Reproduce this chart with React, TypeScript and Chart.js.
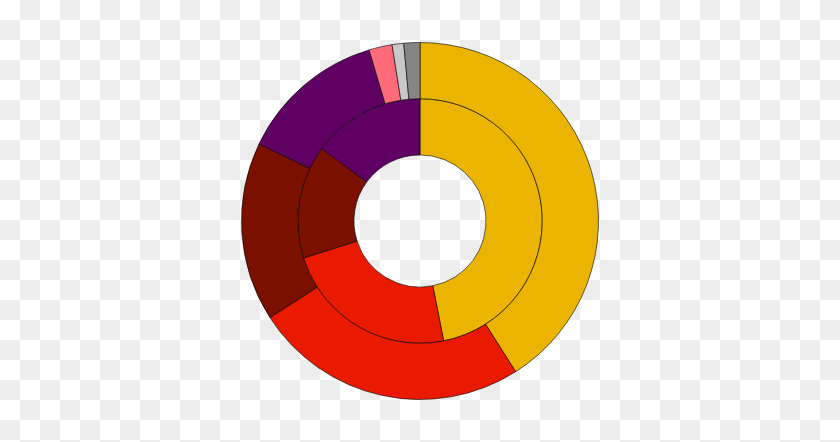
import { useEffect, useRef } from "react";
import Chart from "chart.js/auto";

// categories, clockwise from 12 o'clock
const outerLabels = ["A", "B", "C", "D", "E", "F", "G"];
const outerValues = [41.0, 24.9, 16.2, 13.3, 2.1, 1.05, 1.45];
const outerColors = ["#EAB400", "#E91A00", "#7B0F00", "#600064", "#FF6B78", "#C8C8C8", "#858585"];

const innerValues = [46.9, 23.2, 15.0, 14.9];
const innerColors = ["#EAB400", "#E91A00", "#7B0F00", "#600064"];

// transparency-style checkerboard behind the chart
const checker = {
  id: "checker",
  beforeDraw(chart: Chart) {
    const c = chart.ctx;
    const size = 20;
    c.save();
    c.fillStyle = "#ffffff";
    c.fillRect(0, 0, chart.width, chart.height);
    c.fillStyle = "#ededed";
    for (let y = 0; y < chart.height; y += size) {
      for (let x = 0; x < chart.width; x += size) {
        if (((x + y) / size) % 2 === 1) c.fillRect(x, y, size, size);
      }
    }
    c.restore();
  },
};

export default function App() {
  const chartRef = useRef<HTMLCanvasElement | null>(null);

  useEffect(() => {
    const canvas = chartRef.current;
    if (!canvas) return;
    const ctx = canvas.getContext("2d");
    if (!ctx) return;

    const chart = new Chart(ctx, {
      type: "doughnut",
      data: {
        labels: outerLabels,
        datasets: [
          {
            label: "outer",
            data: outerValues,
            backgroundColor: outerColors,
            borderColor: "rgba(0,0,0,0.6)",
            borderWidth: 1,
          },
          {
            label: "inner",
            data: innerValues,
            backgroundColor: innerColors,
            borderColor: "rgba(0,0,0,0.6)",
            borderWidth: 1,
          },
        ],
      },
      options: {
        responsive: false,
        animation: false,
        cutout: "37%",
        layout: { padding: { top: 42, bottom: 42 } },
        plugins: {
          legend: { display: false },
          tooltip: { enabled: false },
        },
      },
      plugins: [checker],
    });

    return () => {
      chart.destroy();
    };
  }, []);

  return (
    <div style={{ position: "fixed", left: 0, top: 0, width: 840, height: 442 }}>
      <canvas ref={chartRef} width={840} height={442}></canvas>
    </div>
  );
}
